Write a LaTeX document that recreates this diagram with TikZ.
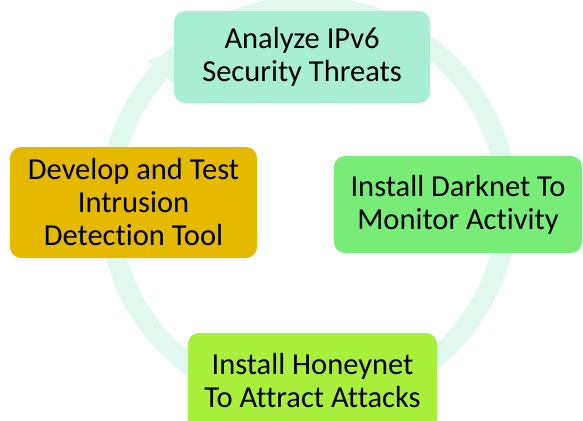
\documentclass[tikz,border=0pt]{standalone}
\usepackage{fontspec}
\setmainfont{Carlito}[Ligatures=NoCommon]
\usetikzlibrary{calc}
\definecolor{ringcol}{HTML}{E1F8EE}
\definecolor{topcol}{HTML}{A8EED5}
\definecolor{rightcol}{HTML}{77EC77}
\definecolor{leftcol}{HTML}{E5B900}
\definecolor{botcol}{HTML}{A8F03C}
\tikzset{
  stepbox/.style={fill=#1, rounded corners=11bp, align=center, inner sep=0pt,
    font=\fontsize{30.5bp}{33bp}\selectfont, text=black},
}
\begin{document}
\begin{tikzpicture}[x=1bp,y=-1bp]
\useasboundingbox (0,0) rectangle (583,420);
\clip (0,0) rectangle (583,420);
\fill[white] (0,0) rectangle (583,420);
% ring
\coordinate (c) at (308,205);
\draw[ringcol, line width=20bp] (c) circle[radius=199bp];
% arrowhead near top box
\fill[ringcol] ($(c)+(138:216bp)$) -- ($(c)+(127:199bp)$) -- ($(c)+(138:182bp)$) -- cycle;
% boxes
\node[stepbox=topcol, minimum width=256bp, minimum height=92bp] (t) at (302,57) {Analyze IPv6\\Security Threats};
\node[stepbox=rightcol, minimum width=248bp, minimum height=97bp] (r) at (458,204.5) {Install Darknet To\\Monitor Activity};
\node[stepbox=leftcol, minimum width=247bp, minimum height=111bp] (l) at (133.5,202.5) {Develop and Test\\Intrusion\\Detection Tool};
\node[stepbox=botcol, minimum width=249bp, minimum height=96bp] (b) at (312.5,381) {Install Honeynet\\To Attract Attacks};
\end{tikzpicture}
\end{document}
